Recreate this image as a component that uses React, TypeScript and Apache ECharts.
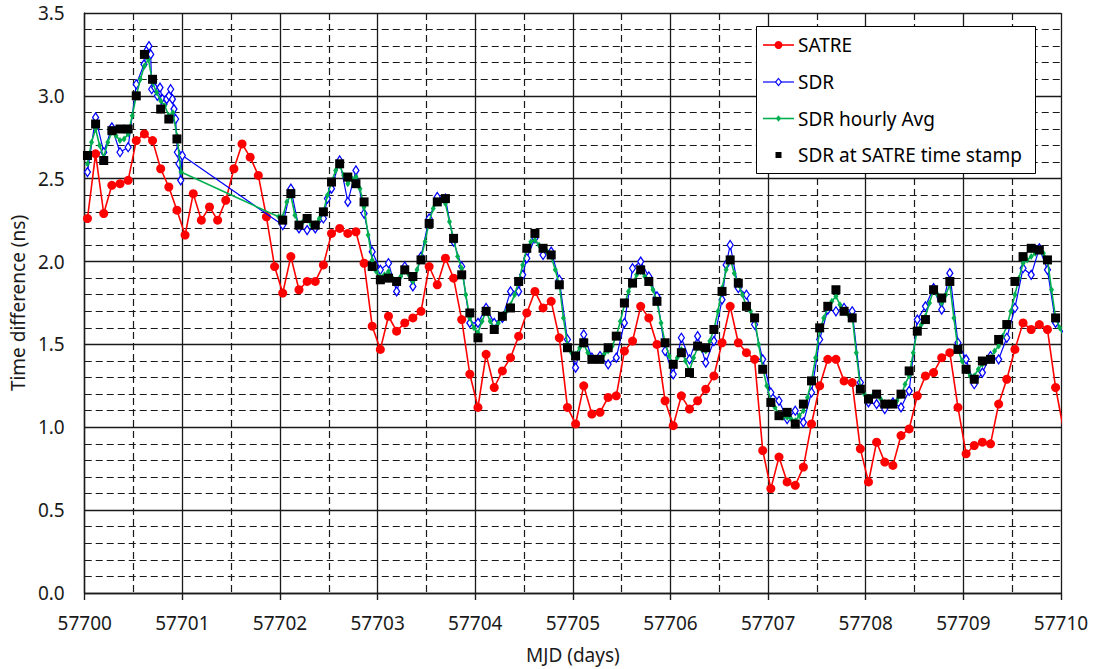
import { useEffect, useRef } from "react";
import * as echarts from "echarts";

// Time base of the measurements (MJD)
const T0 = 57700.028; // first SATRE session
const SATRE_STEP = 2 / 24; // SATRE sessions every 2 hours
const HOURLY_STEP = 1 / 24; // hourly SDR averages

// SATRE (2-hourly)
const satre: number[] = [
  2.26, 2.65, 2.29, 2.46, 2.47, 2.49, 2.73, 2.77, 2.73, 2.56,
  2.45, 2.31, 2.16, 2.41, 2.25, 2.33, 2.25, 2.37, 2.56, 2.71,
  2.63, 2.52, 2.27, 1.97, 1.81, 2.03, 1.83, 1.88, 1.88, 1.98,
  2.17, 2.2, 2.17, 2.18, 1.99, 1.61, 1.47, 1.67, 1.58, 1.63,
  1.66, 1.7, 1.97, 1.86, 2.02, 1.9, 1.65, 1.32, 1.12, 1.44,
  1.24, 1.34, 1.42, 1.55, 1.69, 1.82, 1.72, 1.76, 1.54, 1.12,
  1.02, 1.25, 1.08, 1.09, 1.18, 1.19, 1.46, 1.52, 1.73, 1.66,
  1.5, 1.16, 1.01, 1.19, 1.11, 1.16, 1.23, 1.31, 1.51, 1.73,
  1.51, 1.45, 1.41, 0.86, 0.63, 0.82, 0.67, 0.65, 0.76, 1.02,
  1.25, 1.41, 1.41, 1.28, 1.27, 0.87, 0.67, 0.91, 0.79, 0.77,
  0.95, 0.99, 1.19, 1.31, 1.33, 1.42, 1.45, 1.12, 0.84, 0.89,
  0.91, 0.9, 1.14, 1.29, 1.47, 1.63, 1.59, 1.62, 1.59, 1.24,
  0.98,
];

// SDR at SATRE time stamp (2-hourly, null = no SDR data)
const sdrAtSatre: (number | null)[] = [
  2.64, 2.83, 2.61, 2.79, 2.8, 2.8, 3.0, 3.25, 3.1, 2.92,
  2.86, 2.74, null, null, null, null, null, null, null, null,
  null, null, null, null, 2.25, 2.41, 2.22, 2.26, 2.22, 2.3,
  2.48, 2.59, 2.51, 2.47, 2.36, 1.97, 1.89, 1.9, 1.88, 1.95,
  1.91, 2.01, 2.23, 2.36, 2.38, 2.14, 1.92, 1.69, 1.54, 1.7,
  1.59, 1.67, 1.72, 1.88, 2.08, 2.17, 2.08, 2.04, 1.86, 1.48,
  1.43, 1.51, 1.41, 1.41, 1.48, 1.55, 1.75, 1.87, 1.95, 1.88,
  1.76, 1.51, 1.38, 1.45, 1.33, 1.49, 1.48, 1.59, 1.82, 2.01,
  1.87, 1.73, 1.66, 1.35, 1.15, 1.07, 1.09, 1.02, 1.14, 1.28,
  1.6, 1.73, 1.83, 1.7, 1.66, 1.23, 1.17, 1.2, 1.14, 1.14,
  1.2, 1.34, 1.58, 1.65, 1.83, 1.78, 1.88, 1.47, 1.35, 1.29,
  1.4, 1.41, 1.53, 1.62, 1.88, 2.03, 2.08, 2.07, 2.01, 1.66,
  null,
];

// SDR hourly average (hourly)
const sdrHourly: (number | null)[] = [
  2.59, 2.72, 2.8, 2.7, 2.63, 2.72, 2.78, 2.76, 2.73, 2.74, 2.77, 2.88,
  3.0, 3.1, 3.18, 3.22, 3.08, 3.02, 2.97, 2.94, 2.88, 2.9, 2.76, 2.54,
  null, null, null, null, null, null, null, null, null, null, null, null,
  null, null, null, null, null, null, null, null, null, null, null, 2.27,
  2.27, 2.36, 2.4, 2.28, 2.22, 2.24, 2.25, 2.22, 2.23, 2.26, 2.3, 2.4,
  2.48, 2.55, 2.58, 2.52, 2.47, 2.5, 2.51, 2.44, 2.33, 2.16, 2.01, 1.94,
  1.91, 1.92, 1.94, 1.9, 1.87, 1.91, 1.94, 1.92, 1.88, 1.95, 2.02, 2.12,
  2.24, 2.32, 2.36, 2.37, 2.35, 2.24, 2.14, 2.03, 1.96, 1.8, 1.66, 1.6,
  1.57, 1.64, 1.7, 1.64, 1.6, 1.63, 1.67, 1.7, 1.74, 1.8, 1.88, 1.98,
  2.08, 2.12, 2.13, 2.1, 2.08, 2.06, 2.03, 1.95, 1.86, 1.66, 1.5, 1.45,
  1.44, 1.48, 1.5, 1.45, 1.42, 1.41, 1.42, 1.44, 1.46, 1.49, 1.55, 1.64,
  1.74, 1.82, 1.87, 1.92, 1.94, 1.91, 1.88, 1.83, 1.76, 1.63, 1.51, 1.43,
  1.38, 1.42, 1.47, 1.4, 1.34, 1.42, 1.48, 1.47, 1.46, 1.52, 1.59, 1.7,
  1.84, 1.95, 2.02, 1.93, 1.86, 1.8, 1.73, 1.7, 1.66, 1.5, 1.36, 1.25,
  1.16, 1.12, 1.08, 1.06, 1.06, 1.05, 1.04, 1.07, 1.1, 1.18, 1.28, 1.42,
  1.58, 1.66, 1.72, 1.76, 1.79, 1.74, 1.7, 1.68, 1.67, 1.45, 1.24, 1.2,
  1.17, 1.19, 1.2, 1.17, 1.15, 1.14, 1.14, 1.16, 1.19, 1.26, 1.31, 1.45,
  1.59, 1.62, 1.67, 1.75, 1.83, 1.8, 1.75, 1.8, 1.86, 1.66, 1.47, 1.4,
  1.34, 1.31, 1.31, 1.35, 1.38, 1.4, 1.42, 1.46, 1.49, 1.55, 1.61, 1.7,
  1.8, 1.9, 1.99, 2.01, 2.03, 2.05, 2.07, 2.05, 2.01, 1.83, 1.66, 1.6,
  1.55,
];

// SDR raw, sampled at the SATRE epochs (2-hourly, null = no sample on grid)
const sdr: (number | null)[] = [
  2.54, 2.87, 2.66, 2.81, 2.66, 2.69, 3.07, null, null, null,
  null, null, null, null, null, null, null, null, null, null,
  null, null, null, null, 2.22, 2.44, 2.2, 2.19, 2.2, 2.26,
  2.44, 2.61, 2.36, 2.55, 2.29, 2.06, 1.95, 1.99, 1.82, 1.97,
  1.85, 2.03, 2.26, 2.39, 2.38, 2.12, 1.97, 1.63, 1.63, 1.72,
  1.63, 1.66, 1.82, 1.82, 2.02, 2.14, 2.04, 2.06, 1.89, 1.53,
  1.36, 1.56, 1.42, 1.43, 1.38, 1.42, 1.63, 1.96, 2.0, 1.91,
  1.79, 1.46, 1.32, 1.54, 1.41, 1.55, 1.39, 1.52, 1.77, 2.1,
  1.84, 1.8, 1.62, 1.41, 1.21, 1.16, 1.05, 1.1, 1.03, 1.21,
  1.53, 1.71, 1.7, 1.72, 1.7, 1.27, 1.15, 1.14, 1.11, 1.15,
  1.12, 1.22, 1.65, 1.73, 1.84, 1.71, 1.93, 1.51, 1.41, 1.26,
  1.33, 1.43, 1.41, 1.54, 1.72, 1.96, 1.92, 2.08, 1.95, 1.63,
  1.57,
];

// SDR raw, additional samples off the 2-hour grid
const sdrExtraTimes: number[] = [
  57700.607, 57700.642, 57700.658, 57700.676, 57700.686, 57700.716, 57700.744,
  57700.771, 57700.795, 57700.812, 57700.839, 57700.863, 57700.88, 57700.898,
  57700.914, 57700.931, 57700.949, 57700.965, 57700.983, 57701.0,
  57702.486, 57704.486, 57706.57,
];
const sdrExtraValues: number[] = [
  3.19, 3.28, 3.3, 3.25, 3.04, 3.05, 3.0, 3.05, 2.98, 2.95, 2.98, 3.0, 3.04,
  2.98, 2.92, 2.86, 2.66, 2.59, 2.49, 2.64,
  2.38, 1.92, 1.98,
];

const X_MIN = 57700;
const X_MAX = 57710;
const Y_MIN = 0;
const Y_MAX = 3.5;

const legendNames = ["SATRE", "SDR", "SDR hourly Avg", "SDR at SATRE time stamp"];

const RED = "#FF0000";
const BLUE = "#0000FF";
const GREEN = "#00B050";
const FONT = "Noto Sans";

function toPairs(vals: (number | null)[], step: number): number[][] {
  const out: number[][] = [];
  vals.forEach((v, i) => {
    if (v !== null) out.push([T0 + i * step, v]);
  });
  return out;
}

export default function App() {
  const ref = useRef<HTMLDivElement>(null);

  useEffect(() => {
    if (!ref.current) return;
    const chart = echarts.init(ref.current, undefined, { renderer: "svg" });

    const satreData = toPairs(satre, SATRE_STEP);
    const blackData = toPairs(sdrAtSatre, SATRE_STEP);
    const hourlyData = toPairs(sdrHourly, HOURLY_STEP);
    const sdrData = toPairs(sdr, SATRE_STEP)
      .concat(sdrExtraTimes.map((t, i) => [t, sdrExtraValues[i]]))
      .sort((a, b) => a[0] - b[0]);

    const gridColor = "#1a1a1a";
    const textColor = "#1a1a1a";

    // Legend box drawn as graphic
    const lx = 756.5;
    const ly = 26.5;
    const rowY = [45, 82, 118.5, 155];
    const lineX1 = 763;
    const lineX2 = 794;
    const mx = 778.5;
    const textX = 798;
    const legendEls: any[] = [
      {
        type: "rect",
        shape: { x: lx, y: ly, width: 279, height: 147 },
        style: { fill: "#ffffff", stroke: "#000000", lineWidth: 1 },
      },
      { type: "line", shape: { x1: lineX1, y1: rowY[0], x2: lineX2, y2: rowY[0] }, style: { stroke: RED, lineWidth: 1.6 } },
      { type: "circle", shape: { cx: mx, cy: rowY[0], r: 4 }, style: { fill: RED } },
      { type: "line", shape: { x1: lineX1, y1: rowY[1], x2: lineX2, y2: rowY[1] }, style: { stroke: BLUE, lineWidth: 1.2 } },
      {
        type: "polygon",
        shape: { points: [[mx, rowY[1] - 3.5], [mx + 2.8, rowY[1]], [mx, rowY[1] + 3.5], [mx - 2.8, rowY[1]]] },
        style: { fill: "#ffffff", stroke: BLUE, lineWidth: 1.2 },
      },
      { type: "line", shape: { x1: lineX1, y1: rowY[2], x2: lineX2, y2: rowY[2] }, style: { stroke: GREEN, lineWidth: 1.6 } },
      {
        type: "polygon",
        shape: { points: [[mx, rowY[2] - 3.2], [mx + 2.6, rowY[2]], [mx, rowY[2] + 3.2], [mx - 2.6, rowY[2]]] },
        style: { fill: GREEN },
      },
      { type: "rect", shape: { x: mx - 3, y: rowY[3] - 3, width: 6, height: 6 }, style: { fill: "#000000" } },
    ];
    legendNames.forEach((name, i) => {
      legendEls.push({
        type: "text",
        x: textX,
        y: rowY[i],
        style: {
          text: name,
          fill: "#000000",
          fontSize: 19,
          fontFamily: FONT,
          verticalAlign: "middle",
          align: "left",
        },
      });
    });

    chart.setOption({
      animation: false,
      textStyle: { fontFamily: FONT },
      grid: { left: 84, right: 33, top: 13, bottom: 75 },
      xAxis: {
        type: "value",
        min: X_MIN,
        max: X_MAX,
        interval: 1,
        name: "MJD (days)",
        nameLocation: "middle",
        nameGap: 52,
        nameTextStyle: { fontSize: 19, color: textColor, fontFamily: FONT },
        axisLine: { show: true, onZero: false, lineStyle: { color: gridColor, width: 1.4 } },
        axisTick: { show: true, length: 7, lineStyle: { color: gridColor, width: 1.4 } },
        axisLabel: { fontSize: 19, color: textColor, margin: 20, fontFamily: FONT, formatter: (v: number) => String(Math.round(v)) },
        splitLine: { show: true, lineStyle: { color: gridColor, width: 1.3 } },
        minorTick: { show: false, splitNumber: 2 },
        minorSplitLine: { show: true, lineStyle: { color: gridColor, width: 1.2, type: [7, 4] } },
      },
      yAxis: {
        type: "value",
        min: Y_MIN,
        max: Y_MAX,
        interval: 0.5,
        name: "Time difference (ns)",
        nameLocation: "middle",
        nameGap: 52,
        nameRotate: 90,
        nameTextStyle: { fontSize: 19, color: textColor, fontFamily: FONT },
        axisLine: { show: true, lineStyle: { color: gridColor, width: 1.4 } },
        axisTick: { show: false },
        axisLabel: { fontSize: 19, color: textColor, margin: 20, fontFamily: FONT, formatter: (v: number) => v.toFixed(1) },
        splitLine: { show: true, lineStyle: { color: gridColor, width: 1.3 } },
        minorTick: { show: false, splitNumber: 5 },
        minorSplitLine: { show: true, lineStyle: { color: gridColor, width: 1.2, type: [7, 4] } },
      },
      series: [
        {
          name: legendNames[0],
          type: "line",
          data: satreData,
          symbol: "circle",
          symbolSize: 9,
          showAllSymbol: true,
          z: 2,
          lineStyle: { color: RED, width: 1.6 },
          itemStyle: { color: RED },
        },
        {
          name: legendNames[1],
          type: "line",
          data: sdrData,
          symbol: "diamond",
          symbolSize: [6, 9],
          showAllSymbol: true,
          z: 3,
          lineStyle: { color: BLUE, width: 1.2 },
          itemStyle: { color: "#ffffff", borderColor: BLUE, borderWidth: 1.3 },
        },
        {
          name: legendNames[2],
          type: "line",
          data: hourlyData,
          symbol: "diamond",
          symbolSize: [5, 7],
          showAllSymbol: true,
          z: 4,
          lineStyle: { color: GREEN, width: 1.6 },
          itemStyle: { color: GREEN },
        },
        {
          name: legendNames[3],
          type: "scatter",
          data: blackData,
          symbol: "rect",
          symbolSize: 9,
          z: 5,
          itemStyle: { color: "#000000", opacity: 1 },
        },
      ],
      graphic: { elements: legendEls.map((e) => ({ ...e, z: 100 })) },
    });

    return () => chart.dispose();
  }, []);

  return (
    <div
      ref={ref}
      style={{ position: "fixed", left: 0, top: 0, width: 1094, height: 669, background: "#ffffff" }}
    />
  );
}
